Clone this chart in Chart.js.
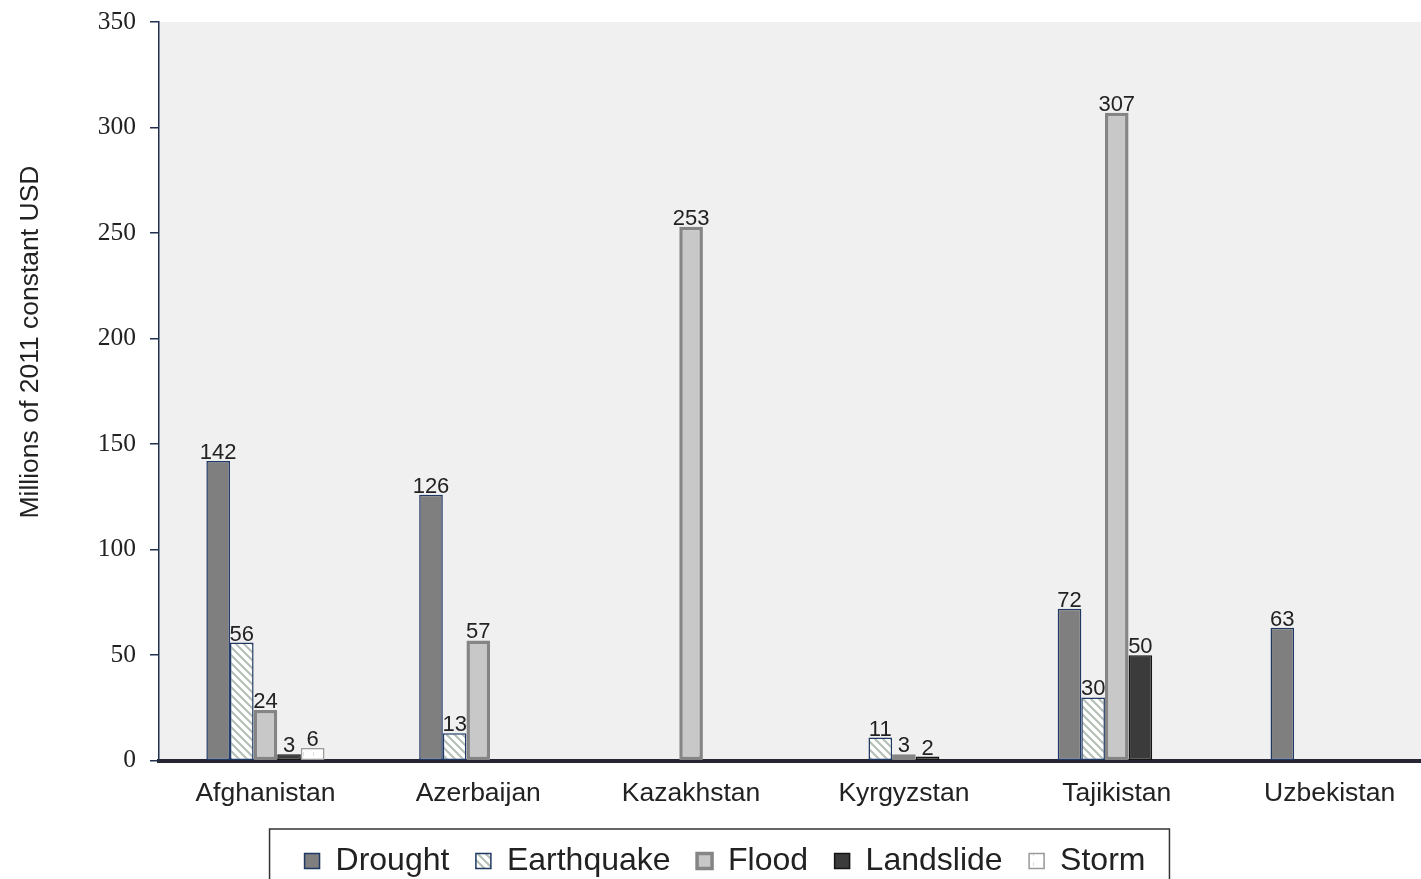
<!DOCTYPE html>
<html>
<head>
<meta charset="utf-8">
<script src="https://cdn.jsdelivr.net/npm/chart.js@4.4.1/dist/chart.umd.min.js"></script>
<style>
  html, body { margin: 0; padding: 0; background: #fff; overflow: hidden; }
  #wrap { width: 1436px; height: 887px; }
</style>
</head>
<body>
<div id="wrap"><canvas id="c" width="1436" height="887"></canvas></div>
<script>
// data
const countries  = ['Afghanistan', 'Azerbaijan', 'Kazakhstan', 'Kyrgyzstan', 'Tajikistan', 'Uzbekistan'];
const drought    = [142, 126, null, null, 72, 63];
const earthquake = [56, 13, null, 11, 30, null];
const flood      = [24, 57, 253, 3, 307, null];
const landslide  = [3, null, null, 2, 50, null];
const storm      = [6, null, null, null, null, null];
const yTicks     = [0, 50, 100, 150, 200, 250, 300, 350];
const yTitle     = 'Millions of 2011 constant USD';

const SANS  = "'Liberation Sans', Arial, sans-serif";
const SERIF = "'Liberation Serif', 'Times New Roman', serif";

// hatch fills
function hatch() {
  const c = document.createElement('canvas'); c.width = 8; c.height = 8;
  const g = c.getContext('2d');
  g.fillStyle = '#ffffff'; g.fillRect(0, 0, 8, 8);
  g.strokeStyle = '#b4c0b6'; g.lineWidth = 2.2;
  g.beginPath();
  g.moveTo(-2, -2); g.lineTo(10, 10);
  g.moveTo(-2, 6);  g.lineTo(2, 10);
  g.moveTo(6, -2);  g.lineTo(10, 2);
  g.stroke();
  return g.createPattern(c, 'repeat');
}
function dots() {
  const c = document.createElement('canvas'); c.width = 10; c.height = 10;
  const g = c.getContext('2d');
  g.fillStyle = '#ffffff'; g.fillRect(0, 0, 10, 10);
  g.fillStyle = '#dedede'; g.fillRect(3, 2, 1, 4);
  return g.createPattern(c, 'repeat');
}

// plot area background
const bgPlugin = {
  id: 'bg',
  beforeDraw(chart) {
    const a = chart.chartArea, ctx = chart.ctx;
    ctx.save();
    ctx.fillStyle = '#f0f0f0';
    ctx.fillRect(a.left, a.top, a.right - a.left, a.bottom - a.top);
    ctx.restore();
  }
};

// y title, sits higher than the middle of the axis in the original
const titlePlugin = {
  id: 'ytitle',
  afterDraw(chart) {
    const ctx = chart.ctx;
    ctx.save();
    ctx.translate(31, 342);
    ctx.rotate(-Math.PI / 2);
    ctx.font = '26.5px ' + SANS;
    ctx.fillStyle = '#222';
    ctx.textAlign = 'center';
    ctx.textBaseline = 'middle';
    ctx.fillText(yTitle, 0, 0);
    ctx.restore();
  }
};

// value labels over bars
const valPlugin = {
  id: 'vals',
  afterDatasetsDraw(chart) {
    const ctx = chart.ctx;
    ctx.save();
    ctx.font = '22px ' + SANS;
    ctx.fillStyle = '#222';
    ctx.textAlign = 'center';
    ctx.textBaseline = 'bottom';
    chart.data.datasets.forEach((ds, i) => {
      chart.getDatasetMeta(i).data.forEach((el, j) => {
        const v = ds.data[j];
        if (v == null) return;
        ctx.fillText(String(v), el.x, el.y + 3);
      });
    });
    ctx.restore();
  }
};

// frame round the legend
const legendBox = {
  id: 'legendBox',
  afterDraw(chart) {
    const hb = chart.legend.legendHitBoxes;
    if (!hb || !hb.length) return;
    const ctx = chart.ctx;
    const first = hb[0], last = hb[hb.length - 1];
    ctx.save();
    ctx.strokeStyle = '#333';
    ctx.lineWidth = 1.5;
    ctx.strokeRect(first.left - 35, first.top - 16, (last.left + last.width) - first.left + 59, 75);
    ctx.restore();
  }
};

const dsStyle = [
  { label: 'Drought',    data: drought,    backgroundColor: '#7f7f7f', borderColor: '#1f3864', borderWidth: 1.5 },
  { label: 'Earthquake', data: earthquake, backgroundColor: hatch(),   borderColor: '#1f3864', borderWidth: 1.5 },
  { label: 'Flood',      data: flood,      backgroundColor: '#c8c8c8', borderColor: '#858585', borderWidth: 3.5 },
  { label: 'Landslide',  data: landslide,  backgroundColor: '#3b3b3b', borderColor: '#151515', borderWidth: 1.5 },
  { label: 'Storm',      data: storm,      backgroundColor: dots(),    borderColor: '#9a9a9a', borderWidth: 1.5 },
];

new Chart(document.getElementById('c'), {
  type: 'bar',
  data: { labels: countries, datasets: dsStyle },
  plugins: [bgPlugin, valPlugin, legendBox, titlePlugin],
  options: {
    responsive: false,
    animation: false,
    events: [],
    layout: { padding: { top: 22, left: 14, right: 0, bottom: 0 } },
    datasets: { bar: { categoryPercentage: 0.555, barPercentage: 1, borderSkipped: false } },
    plugins: {
      tooltip: { enabled: false },
      legend: {
        position: 'bottom',
        labels: {
          color: '#222',
          font: { family: SANS, size: 32 },
          boxWidth: 15, boxHeight: 15,
          padding: 26.5,
        },
      },
    },
    scales: {
      x: {
        grid: { display: false },
        border: { color: '#262633', width: 4 },
        ticks: { color: '#222', font: { family: SANS, size: 26.5 }, padding: 9, maxRotation: 0 },
      },
      y: {
        min: 0, max: 350,
        afterBuildTicks: s => { s.ticks = yTicks.map(v => ({ value: v })); },
        afterFit: s => { s.width = 145; s.paddingTop = 0; s.paddingBottom = 0; },
        grid: { drawOnChartArea: false, tickLength: 9, color: '#1f2f4f', lineWidth: 1.5 },
        border: { color: '#1f2f4f', width: 1.5 },
        ticks: { color: '#222', font: { family: SERIF, size: 25.5 }, padding: 14 },
      },
    },
  },
});
</script>
</body>
</html>
